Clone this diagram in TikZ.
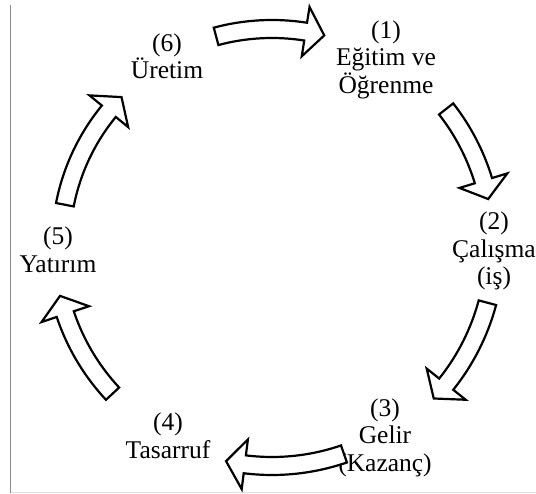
\documentclass[tikz,border=0pt]{standalone}
\usepackage{fontspec}
\setmainfont{Liberation Serif}
\usepackage{tikz}
\usetikzlibrary{calc}

% hollow curved arrow round the centre: radius, tail angle, tip angle
\newcommand{\cyclearrow}[3]{%
  \pgfmathsetmacro{\headang}{#3+19/#1*180/pi}
  \draw[blockarrow] (#2:#1+9) arc[start angle=#2, end angle=\headang, radius=#1+9]
    -- (\headang:#1+25) -- (#3:#1) -- (\headang:#1-25) -- (\headang:#1-9)
    arc[start angle=\headang, end angle=#2, radius=#1-9] -- cycle;}

\begin{document}
\begin{tikzpicture}[x=1pt, y=1pt,
  stage/.style={align=center, inner sep=0pt, font=\fontsize{25.5}{27.5}\selectfont},
  blockarrow/.style={draw=black, fill=white, line width=2.2pt, line join=miter}]

\useasboundingbox (0,0) rectangle (536,494);

%================ FRAME ==================
\draw[gray!90, line width=1pt] (10.5,489) -- (10.5,1);
\draw[gray!25, line width=1pt] (10.5,1) -- (536,1);

%================ STAGES ==================
\coordinate (c) at (272,249);
\node[stage] (egitim) at (386,434.5) {(1)\\Eğitim ve\\Öğrenme};
\node[stage] (calisma) at (494,243) {(2)\\Çalışma\\(iş)};
\node[stage] (gelir) at (385,56.5) {(3)\\Gelir\\(Kazanç)};
\node[stage] (tasarruf) at (168,58) {(4)\\Tasarruf};
\node[stage] (yatirim) at (58,244) {(5)\\Yatırım};
\node[stage] (uretim) at (167,437.5) {(6)\\Üretim};

%================ ARROWS ==================
\begin{scope}[shift={(c)}]
  \cyclearrow{216}{105}{76}
  \cyclearrow{221}{38}{12}
  \cyclearrow{223}{-15}{-43.5}
  \cyclearrow{221}{-71}{-102}
  \cyclearrow{218}{223}{193.5}
  \cyclearrow{211}{169}{135.5}
\end{scope}

\end{tikzpicture}
\end{document}
